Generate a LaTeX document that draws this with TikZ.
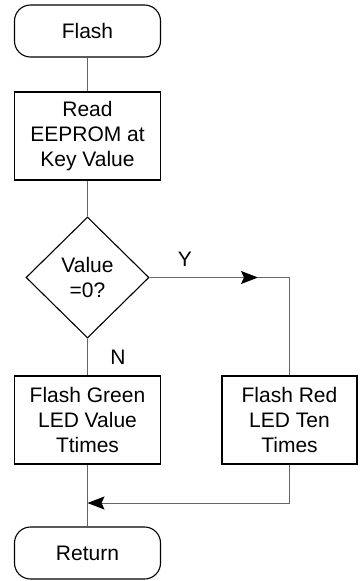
\documentclass[tikz,border=0pt]{standalone}
\usepackage{fontspec}
\setmainfont{Liberation Sans}
\usetikzlibrary{shapes.geometric,arrows.meta}
\begin{document}
\begin{tikzpicture}[x=1pt,y=-1pt,
  txt/.style={font=\fontsize{21}{25}\selectfont, align=center, inner sep=0pt},
  term/.style={txt, draw=black, line width=1.1pt, rounded corners=16pt, minimum width=146pt, minimum height=52pt},
  proc/.style={txt, draw=black, line width=1.1pt, minimum width=146pt, minimum height=88pt},
  dec/.style={txt, draw=black, line width=1.1pt, diamond, minimum width=123pt, minimum height=121pt},
  conn/.style={draw=black!60, line width=1pt},
  tip/.style={-{Stealth[length=17pt,width=13pt,inset=3pt,black]}},
  lbl/.style={font=\fontsize{21}{25}\selectfont, inner sep=0pt}]
\useasboundingbox (0,0) rectangle (359,581);
\node[term] (flash) at (87.5,31) {Flash};
\node[proc] (read) at (87.5,136) {Read\\EEPROM at\\Key Value};
\node[dec] (dec) at (87.5,277.5) {Value\\=0?};
\node[proc] (green) at (87.5,420) {Flash Green\\LED Value\\Ttimes};
\node[proc, minimum width=135pt] (red) at (289.5,420) {Flash Red\\LED Ten\\Times};
\node[term] (ret) at (87.5,553) {Return};
\node[lbl] (ylbl) at (185,259) {Y};
\node[lbl] (nlbl) at (118,357) {N};
\coordinate (ymid) at (258,277.5);
\coordinate (ycorner) at (red.north |- dec.east);
\coordinate (rcorner) at (red.south |- 0,503);
\coordinate (join) at (green.south |- 0,503);
\draw[conn] (flash) -- (read);
\draw[conn] (read) -- (dec);
\draw[conn] (dec) -- (green);
\draw[conn, tip] (dec.east) -- (ymid);
\draw[conn] (ymid) -- (ycorner) -- (red.north);
\draw[conn] (green) -- (ret);
\draw[conn, tip] (red.south) -- (rcorner) -- (join);
\end{tikzpicture}
\end{document}
